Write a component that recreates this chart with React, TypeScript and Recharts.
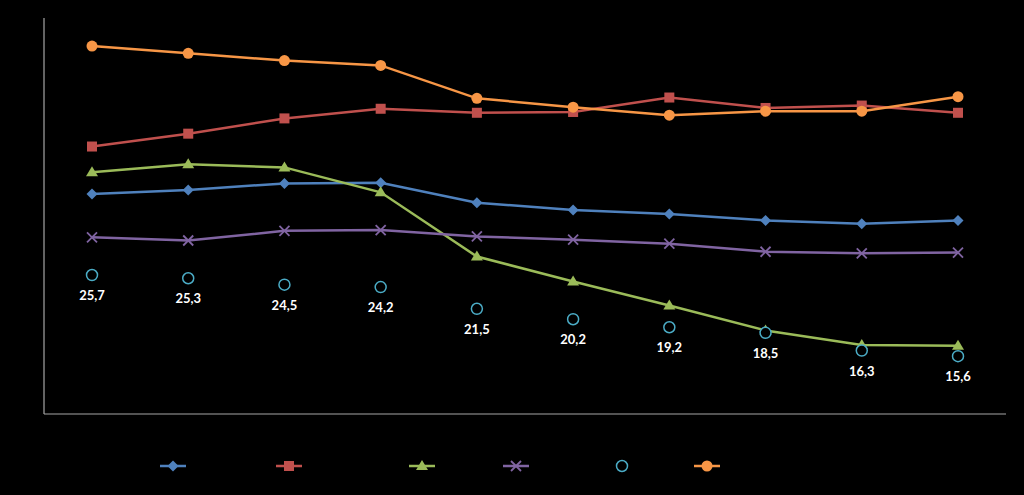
import { LineChart, Line, XAxis, YAxis, Legend, LabelList } from 'recharts';

const categories = ['1', '2', '3', '4', '5', '6', '7', '8', '9', '10'];
const blueValues = [35.8, 36.3, 37.1, 37.2, 34.7, 33.8, 33.3, 32.5, 32.1, 32.5];
const redValues = [41.7, 43.3, 45.2, 46.4, 45.9, 46.0, 47.8, 46.5, 46.8, 45.9];
const greenValues = [38.5, 39.5, 39.1, 36.0, 28.0, 24.9, 21.9, 18.8, 17.0, 16.9];
const purpleValues = [30.4, 30.0, 31.2, 31.3, 30.5, 30.1, 29.6, 28.6, 28.4, 28.5];
const cyanValues = [25.7, 25.3, 24.5, 24.2, 21.5, 20.2, 19.2, 18.5, 16.3, 15.6];
const orangeValues = [54.2, 53.3, 52.4, 51.8, 47.7, 46.6, 45.6, 46.1, 46.1, 47.9];

const data = categories.map((cat, i) => ({
  cat,
  blue: blueValues[i],
  red: redValues[i],
  green: greenValues[i],
  purple: purpleValues[i],
  cyan: cyanValues[i],
  orange: orangeValues[i],
}));

type Marker = 'diamond' | 'square' | 'triangle' | 'x' | 'ring' | 'circle';

const series: { key: string; name: string; color: string; marker: Marker; legendWidth: number }[] = [
  { key: 'blue', name: 'Series 1', color: '#4F81BD', marker: 'diamond', legendWidth: 116 },
  { key: 'red', name: 'Series 2', color: '#C0504D', marker: 'square', legendWidth: 133 },
  { key: 'green', name: 'Series 3', color: '#9BBB59', marker: 'triangle', legendWidth: 94 },
  { key: 'purple', name: 'Series 4', color: '#8064A2', marker: 'x', legendWidth: 106 },
  { key: 'cyan', name: 'Series 5', color: '#4BACC6', marker: 'ring', legendWidth: 85 },
  { key: 'orange', name: 'Series 6', color: '#F79646', marker: 'circle', legendWidth: 80 },
];

const drawMarker = (marker: Marker, color: string, cx: number, cy: number, key?: any) => {
  switch (marker) {
    case 'diamond':
      return <path key={key} d={`M${cx},${cy - 5.5}L${cx + 5.5},${cy}L${cx},${cy + 5.5}L${cx - 5.5},${cy}Z`} fill={color} />;
    case 'square':
      return <rect key={key} x={cx - 5} y={cy - 5} width={10} height={10} fill={color} />;
    case 'triangle':
      return <path key={key} d={`M${cx},${cy - 6}L${cx + 6},${cy + 4}L${cx - 6},${cy + 4}Z`} fill={color} />;
    case 'x':
      return (
        <g key={key} stroke={color} strokeWidth={1.8}>
          <line x1={cx - 5} y1={cy - 5} x2={cx + 5} y2={cy + 5} />
          <line x1={cx - 5} y1={cy + 5} x2={cx + 5} y2={cy - 5} />
        </g>
      );
    case 'ring':
      return <circle key={key} cx={cx} cy={cy} r={5.5} fill="#000" stroke={color} strokeWidth={1.5} />;
    default:
      return <circle key={key} cx={cx} cy={cy} r={5.5} fill={color} />;
  }
};

const renderLegend = () => (
  <div style={{ display: 'flex', paddingLeft: 160, height: 20, alignItems: 'center' }}>
    {series.map((s) => (
      <div key={s.key} style={{ width: s.legendWidth, display: 'flex', alignItems: 'center' }}>
        <svg width={26} height={14}>
          {s.marker !== 'ring' && <line x1={0} y1={7} x2={26} y2={7} stroke={s.color} strokeWidth={2.5} />}
          {drawMarker(s.marker, s.color, 13, 7)}
        </svg>
        <span style={{ color: '#000', fontSize: 12, marginLeft: 4 }}>{s.name}</span>
      </div>
    ))}
  </div>
);

const renderCyanLabel = (props: any) => {
  const { x, y, value } = props;
  return (
    <text
      x={x}
      y={y + 25}
      textAnchor="middle"
      fill="#fff"
      fontSize={13}
      fontWeight="bold"
      fontFamily="Lato, sans-serif"
    >
      {String(value).replace('.', ',')}
    </text>
  );
};

export default function App() {
  return (
    <div style={{ position: 'fixed', left: 0, top: 0, width: 1024, height: 495, background: '#000' }}>
      <LineChart width={1024} height={495} data={data} margin={{ top: 18, right: 18, bottom: 80, left: 43 }}>
        <XAxis
          dataKey="cat"
          tick={false}
          tickLine={false}
          height={1}
          padding={{ left: 48, right: 48 }}
          axisLine={{ stroke: '#a6a6a6', strokeWidth: 1.2 }}
        />
        <YAxis domain={[8.4, 57.7]} tick={false} tickLine={false} width={1} axisLine={{ stroke: '#a6a6a6', strokeWidth: 1.2 }} />
        {series.map((s) => (
          <Line
            key={s.key}
            dataKey={s.key}
            name={s.name}
            type="linear"
            stroke={s.marker === 'ring' ? 'transparent' : s.color}
            strokeWidth={s.marker === 'ring' ? 0 : 2.5}
            isAnimationActive={false}
            activeDot={false}
            dot={(p: any) => drawMarker(s.marker, s.color, p.cx, p.cy, p.index)}
          >
            {s.marker === 'ring' && <LabelList dataKey={s.key} content={renderCyanLabel} />}
          </Line>
        ))}
        <Legend
          layout="horizontal"
          verticalAlign="middle"
          content={renderLegend}
          wrapperStyle={{ top: 456, left: 0, width: 1024 }}
        />
      </LineChart>
    </div>
  );
}
